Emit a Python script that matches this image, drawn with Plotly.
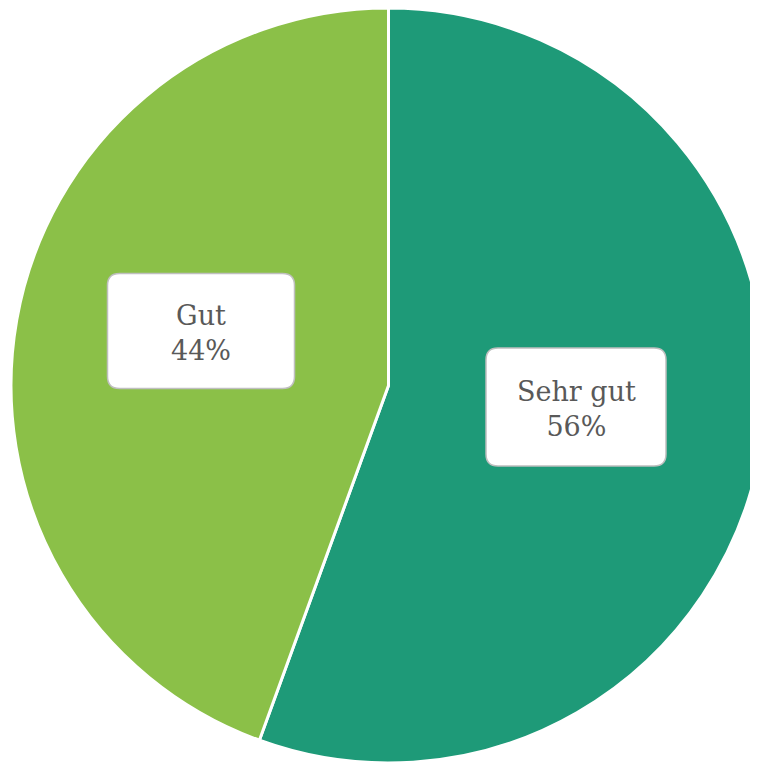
import plotly.graph_objects as go

W, H = 758, 762
PAGE_MARGIN = 8  # default body margin of the html page

categories = ["Sehr gut", "Gut"]
values = [5, 4]
colors = ["#1E9A78", "#8BC048"]

# label boxes (screen pixel centre, size)
label_boxes = {
    "Sehr gut": (576, 407, 180, 118),
    "Gut": (201, 331, 187, 115),
}


def to_paper(x, y):
    """Screen pixel -> paper coords, allowing for the page margin."""
    return (x - PAGE_MARGIN) / W, 1 - (y - PAGE_MARGIN) / H


def rounded_rect(cx, cy, w, h, r=12):
    """SVG path of a rounded rectangle in paper coords."""
    x0, x1 = cx - w / 2, cx + w / 2
    y0, y1 = cy - h / 2, cy + h / 2

    def p(x, y):
        px, py = to_paper(x, y)
        return f"{px:.5f},{py:.5f}"

    return (
        f"M {p(x0 + r, y0)} L {p(x1 - r, y0)} Q {p(x1, y0)} {p(x1, y0 + r)} "
        f"L {p(x1, y1 - r)} Q {p(x1, y1)} {p(x1 - r, y1)} "
        f"L {p(x0 + r, y1)} Q {p(x0, y1)} {p(x0, y1 - r)} "
        f"L {p(x0, y0 + r)} Q {p(x0, y0)} {p(x0 + r, y0)} Z"
    )


fig = go.Figure(
    go.Pie(
        labels=categories,
        values=values,
        sort=False,
        direction="clockwise",
        rotation=0,
        marker=dict(colors=colors, line=dict(color="white", width=3)),
        textinfo="none",
        hoverinfo="label+percent",
        domain=dict(x=[3 / W, 1], y=[7 / H, 1]),
        showlegend=False,
    )
)

total = sum(values)
shapes = []
annotations = []
for cat, val in zip(categories, values):
    cx, cy, w, h = label_boxes[cat]
    shapes.append(
        dict(
            type="path",
            xref="paper",
            yref="paper",
            path=rounded_rect(cx, cy, w, h),
            fillcolor="white",
            line=dict(color="#BFBFBF", width=1.5),
        )
    )
    ax, ay = to_paper(cx, cy + 2)
    annotations.append(
        dict(
            x=ax,
            y=ay,
            xref="paper",
            yref="paper",
            xanchor="center",
            yanchor="middle",
            text=f"{cat}<br>{val / total * 100:.0f}%",
            showarrow=False,
            font=dict(family="DejaVu Serif", size=27, color="#595959"),
        )
    )

fig.update_layout(
    width=W,
    height=H,
    margin=dict(l=0, r=0, t=0, b=0),
    paper_bgcolor="white",
    plot_bgcolor="white",
    shapes=shapes,
    annotations=annotations,
)

fig.write_html("out.html")
